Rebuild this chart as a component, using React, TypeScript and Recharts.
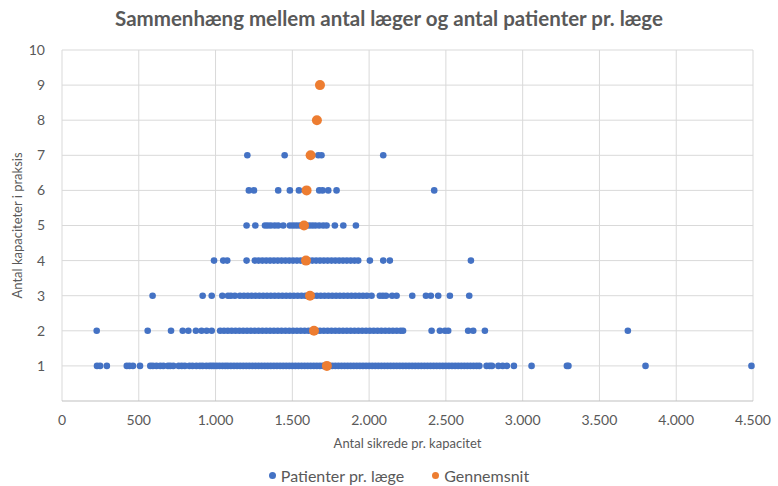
import React from 'react';
import { ScatterChart, Scatter, XAxis, YAxis, CartesianGrid } from 'recharts';

const title = 'Sammenhæng mellem antal læger og antal patienter pr. læge';
const xLabel = 'Antal sikrede pr. kapacitet';
const yLabel = 'Antal kapaciteter i praksis';
const seriesNames = ['Patienter pr. læge', 'Gennemsnit'];
const xTicks = [0, 500, 1000, 1500, 2000, 2500, 3000, 3500, 4000, 4500];
const yTicks = [1, 2, 3, 4, 5, 6, 7, 8, 9, 10];

const row1 = [228, 248, 292, 422, 440, 462, 508, 575, 592, 615, 640, 660, 690, 705, 725, 760, 780, 800, 830, 850, 875, 898, 916, 940, 960, 975, 990, 1008, 1026, 1045, 1063, 1080, 1100, 1120, 1140, 1160, 1180, 1200, 1220, 1240, 1260, 1280, 1300, 1320, 1340, 1360, 1380, 1400, 1420, 1440, 1460, 1480, 1500, 1520, 1540, 1560, 1580, 1600, 1620, 1640, 1660, 1680, 1700, 1720, 1740, 1760, 1780, 1800, 1820, 1840, 1860, 1880, 1900, 1920, 1940, 1960, 1980, 2000, 2020, 2040, 2060, 2080, 2100, 2120, 2140, 2160, 2180, 2200, 2220, 2240, 2260, 2280, 2300, 2320, 2340, 2360, 2380, 2400, 2420, 2440, 2460, 2480, 2500, 2520, 2540, 2560, 2580, 2600, 2620, 2640, 2660, 2680, 2700, 2718, 2765, 2785, 2800, 2842, 2870, 2898, 2943, 3058, 3288, 3298, 3800, 4490];
const row2 = [226, 558, 710, 786, 823, 872, 909, 942, 975, 1030, 1055, 1080, 1105, 1130, 1155, 1180, 1205, 1230, 1255, 1280, 1305, 1330, 1355, 1380, 1405, 1430, 1455, 1480, 1505, 1530, 1555, 1580, 1605, 1630, 1655, 1680, 1705, 1730, 1755, 1780, 1805, 1830, 1855, 1880, 1905, 1930, 1955, 1980, 2005, 2030, 2055, 2080, 2105, 2130, 2155, 2180, 2205, 2221, 2407, 2461, 2494, 2515, 2645, 2678, 2754, 3685];
const row3 = [590, 916, 975, 1044, 1081, 1100, 1126, 1159, 1185, 1210, 1235, 1260, 1285, 1310, 1335, 1360, 1385, 1410, 1435, 1460, 1485, 1510, 1535, 1560, 1585, 1610, 1635, 1660, 1685, 1710, 1735, 1760, 1785, 1810, 1835, 1860, 1885, 1910, 1935, 1960, 1985, 2016, 2070, 2090, 2110, 2150, 2179, 2281, 2370, 2402, 2450, 2526, 2652];
const row4 = [990, 1050, 1076, 1202, 1256, 1280, 1305, 1330, 1355, 1380, 1405, 1430, 1455, 1480, 1505, 1530, 1555, 1580, 1605, 1630, 1655, 1680, 1705, 1730, 1755, 1780, 1805, 1830, 1855, 1880, 1905, 1929, 2005, 2092, 2135, 2663];
const row5 = [1202, 1259, 1322, 1340, 1360, 1385, 1408, 1441, 1484, 1505, 1525, 1545, 1565, 1590, 1610, 1630, 1650, 1675, 1701, 1723, 1777, 1832, 1914];
const row6 = [1217, 1250, 1408, 1484, 1543, 1585, 1675, 1697, 1734, 1788, 2424];
const row7 = [1207, 1450, 1620, 1669, 1690, 2092];
const avgX = [1725, 1641, 1615, 1589, 1576, 1593, 1619, 1660, 1680];
const avgY = [1, 2, 3, 4, 5, 6, 7, 8, 9];

const rows = [row1, row2, row3, row4, row5, row6, row7];
const blueData = rows.flatMap((r, i) => r.map((x) => ({ x, y: i + 1 })));
const avgData = avgX.map((x, i) => ({ x, y: avgY[i] }));

const BLUE = '#4472C4';
const ORANGE = '#ED7D31';
const TEXT = '#595959';
const FONT = 'Lato, "Open Sans", sans-serif';

const fmt = (v: number) => String(v).replace(/\B(?=(\d{3})+(?!\d))/g, '.');

const BlueDot = (p: any) => <circle cx={p.cx} cy={p.cy} r={3.3} fill={BLUE} />;
const OrangeDot = (p: any) => <circle cx={p.cx} cy={p.cy} r={5} fill={ORANGE} />;

export default function App() {
  return (
    <div style={{ position: 'absolute', left: 0, top: 0, width: 778, height: 486, background: '#fff', fontFamily: FONT }}>
      <div style={{ position: 'absolute', left: 0, top: 6, width: 778, textAlign: 'center', fontSize: 20.5, fontWeight: 700, color: TEXT }}>
        {title}
      </div>
      <ScatterChart width={778} height={486} margin={{ top: 50, right: 25, bottom: 0, left: 0 }}>
        <CartesianGrid stroke="#d9d9d9" horizontalValues={yTicks} verticalValues={xTicks} />
        <XAxis
          type="number"
          dataKey="x"
          domain={[0, 4500]}
          ticks={xTicks}
          tickFormatter={fmt}
          height={85}
          tickSize={0}
          tickMargin={14}
          axisLine={{ stroke: '#bfbfbf' }}
          tick={{ fill: TEXT, fontSize: 14, fontFamily: FONT }}
          label={{ value: xLabel, position: 'insideBottom', offset: 38, fill: TEXT, fontSize: 13, fontFamily: FONT }}
        />
        <YAxis
          type="number"
          dataKey="y"
          domain={[0, 10]}
          ticks={yTicks}
          width={62}
          tickSize={0}
          tickMargin={17}
          axisLine={false}
          tick={{ fill: TEXT, fontSize: 14, fontFamily: FONT }}
          label={{ value: yLabel, angle: -90, position: 'insideLeft', offset: 17, fill: TEXT, fontSize: 13, fontFamily: FONT, style: { textAnchor: 'middle' } }}
        />
        <Scatter name={seriesNames[0]} data={blueData} fill={BLUE} shape={BlueDot} isAnimationActive={false} />
        <Scatter name={seriesNames[1]} data={avgData} fill={ORANGE} shape={OrangeDot} isAnimationActive={false} />
      </ScatterChart>
      <div style={{ position: 'absolute', left: 10, top: 466, width: 778, display: 'flex', justifyContent: 'center', alignItems: 'center', fontSize: 16, color: TEXT }}>
        <span style={{ display: 'inline-block', width: 7, height: 7, borderRadius: '50%', background: BLUE, marginRight: 5 }} />
        <span>{seriesNames[0]}</span>
        <span style={{ display: 'inline-block', width: 7, height: 7, borderRadius: '50%', background: ORANGE, marginLeft: 28, marginRight: 5 }} />
        <span>{seriesNames[1]}</span>
      </div>
    </div>
  );
}
